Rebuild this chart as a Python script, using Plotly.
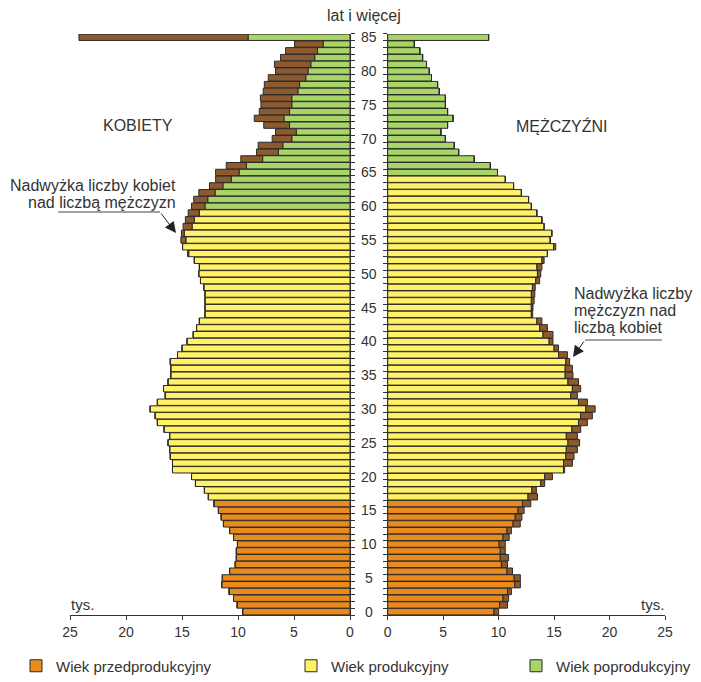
import plotly.graph_objects as go

# The page body has an 8px default margin; design in reference pixel coords
OFF = 8
W, H = 701 - OFF, 682 - OFF

ages = list(range(0, 86))

women = [9.58, 10.08, 10.4, 10.8, 11.45, 11.4, 10.75, 10.25, 10.15, 10.15,
         10.05, 10.4, 10.75, 11.3, 11.5, 11.75, 12.15, 12.65, 13.0, 13.8,
         14.15, 15.85, 15.85, 16.05, 16.1, 16.25, 16.1, 16.6, 17.2, 17.4,
         17.85, 17.2, 16.5, 16.65, 16.25, 16.0, 16.0, 16.05, 15.4, 15.0,
         14.55, 14.0, 13.7, 13.45, 12.95, 12.95, 12.95, 12.95, 13.05, 13.35,
         13.5, 13.45, 13.9, 14.5, 14.95, 15.1, 15.05, 14.9, 14.7, 14.45,
         14.15, 13.95, 13.5, 12.55, 12.0, 12.0, 11.05, 9.75, 8.35, 8.2,
         6.95, 6.65, 7.7, 8.55, 8.1, 7.95, 8.0, 7.75, 7.65, 7.3,
         6.65, 6.75, 6.2, 5.75, 4.95, 24.2]

men = [10.0, 10.8, 10.9, 11.15, 11.96, 11.96, 11.25, 10.8, 10.9, 10.6,
       10.6, 10.95, 11.15, 11.95, 12.1, 12.3, 12.9, 13.5, 13.4, 14.15,
       14.85, 15.95, 16.65, 16.8, 17.1, 17.3, 17.1, 17.4, 18.0, 18.45,
       18.7, 18.0, 17.1, 17.4, 17.2, 16.7, 16.65, 16.4, 16.2, 15.4,
       14.9, 14.9, 14.4, 13.9, 13.07, 13.1, 13.2, 13.26, 13.3, 13.7,
       13.8, 13.9, 14.1, 14.4, 15.15, 14.65, 14.8, 14.1, 13.9, 13.45,
       12.95, 12.7, 12.05, 11.35, 10.6, 9.9, 9.25, 7.8, 6.4, 6.0,
       5.2, 4.8, 5.4, 5.9, 5.4, 5.2, 5.2, 4.65, 4.5, 3.95,
       3.75, 3.5, 3.15, 2.9, 2.4, 9.1]

age_tick_labels = [0, 5, 10, 15, 20, 25, 30, 35, 40, 45, 50, 55, 60, 65, 70, 75, 80, 85]
x_ticks = [0, 5, 10, 15, 20, 25]

pre_max_age = 16          # wiek przedprodukcyjny: 0-16
post_min_women = 60       # wiek poprodukcyjny kobiet: 60+
post_min_men = 65         # wiek poprodukcyjny mężczyzn: 65+

group_names = ["Wiek przedprodukcyjny", "Wiek produkcyjny", "Wiek poprodukcyjny"]
group_colors = ["#E98A1E", "#FFF266", "#A8D468"]
brown = "#8C5A2D"
outline = "#2a2a2a"
txt = "#333333"
FONT = "Liberation Sans, Arial, sans-serif"


def group_of(age, post_min):
    if age <= pre_max_age:
        return 0
    if age < post_min:
        return 1
    return 2


common_base = [min(w, m) for w, m in zip(women, men)]
excess_w = [max(w - m, 0) for w, m in zip(women, men)]
excess_m = [max(m - w, 0) for w, m in zip(women, men)]

fig = go.Figure()

for side, post_min, xa, ya in [("K", post_min_women, "x", "y"), ("M", post_min_men, "x2", "y2")]:
    for g in range(3):
        ys = [a for a in ages if group_of(a, post_min) == g]
        xs = [common_base[a] for a in ys]
        fig.add_trace(go.Bar(
            orientation="h", x=xs, y=ys, xaxis=xa, yaxis=ya,
            marker=dict(color=group_colors[g], line=dict(color=outline, width=1)),
            name=group_names[g], showlegend=(side == "K"),
            legend=["legend", "legend2", "legend3"][g],
            hoverinfo="skip"))

fig.add_trace(go.Bar(orientation="h", x=excess_w, y=ages, base=common_base,
                     xaxis="x", yaxis="y", showlegend=False,
                     marker=dict(color=brown, line=dict(color=outline, width=1)),
                     hoverinfo="skip"))
fig.add_trace(go.Bar(orientation="h", x=excess_m, y=ages, base=common_base,
                     xaxis="x2", yaxis="y2", showlegend=False,
                     marker=dict(color=brown, line=dict(color=outline, width=1)),
                     hoverinfo="skip"))


def px(x):
    return (x - OFF) / W


def py(y):
    return 1 - (y - OFF) / H


y_dom = [py(615.1), py(33.9)]
axis_common = dict(showgrid=False, zeroline=False, showline=True, linecolor=txt,
                   linewidth=1, ticks="outside", ticklen=4, tickcolor=txt,
                   fixedrange=True)
tickfont = dict(family=FONT, size=14, color=txt)
legfont = dict(family=FONT, size=15, color=txt)

fig.update_layout(
    width=W, height=H, autosize=False,
    margin=dict(l=0, r=0, t=0, b=0, autoexpand=False),
    paper_bgcolor="white", plot_bgcolor="white",
    barmode="overlay", bargap=0.06,
    font=dict(family=FONT, size=14, color=txt),
    xaxis=dict(domain=[px(70), px(350)], range=[25, 0], tickvals=x_ticks,
               anchor="y", tickfont=tickfont, **axis_common),
    xaxis2=dict(domain=[px(387.7), px(665)], range=[0, 25], tickvals=x_ticks,
                anchor="y2", tickfont=tickfont, **axis_common),
    yaxis=dict(domain=y_dom, range=[-0.5, 85.5], anchor="x", side="right",
               tickvals=[a - 0.5 for a in ages] + [85.5], showticklabels=False,
               **axis_common),
    yaxis2=dict(domain=y_dom, range=[-0.5, 85.5], anchor="x2", side="left",
                matches="y",
                tickvals=[a - 0.5 for a in ages] + [85.5], showticklabels=False,
                **axis_common),
    legend=dict(x=px(16), y=py(666), xanchor="left", yanchor="middle",
                orientation="h", font=legfont, bgcolor="rgba(0,0,0,0)"),
    legend2=dict(x=px(291), y=py(666), xanchor="left", yanchor="middle",
                 orientation="h", font=legfont, bgcolor="rgba(0,0,0,0)"),
    legend3=dict(x=px(516), y=py(666), xanchor="left", yanchor="middle",
                 orientation="h", font=legfont, bgcolor="rgba(0,0,0,0)"),
)


def label(x, y, text, size=16, xanchor="center"):
    return dict(x=px(x), y=py(y), xref="paper", yref="paper", text=text,
                showarrow=False, xanchor=xanchor, yanchor="middle",
                font=dict(family=FONT, size=size, color=txt))


ann = []
for a in age_tick_labels:
    ann.append(dict(x=px(369), y=a, xref="paper", yref="y", text=str(a),
                    showarrow=False, xanchor="center", yanchor="middle",
                    font=dict(family=FONT, size=14, color=txt)))

ann += [
    label(364, 16, "lat i więcej"),
    label(138, 126, "KOBIETY"),
    label(562, 126, "MĘŻCZYŹNI"),
    label(69, 604, "tys.", 15, "left"),
    label(666, 604, "tys.", 15, "right"),
    label(178, 185, "Nadwyżka liczby kobiet", 16, "right"),
    label(178, 203, "nad liczbą mężczyzn", 16, "right"),
    label(572, 293, "Nadwyżka liczby", 16, "left"),
    label(572, 310, "mężczyzn nad", 16, "left"),
    label(572, 327, "liczbą kobiet", 16, "left"),
    dict(x=px(176), y=py(233), xref="paper", yref="paper", text="", showarrow=True,
         ax=-16, ay=-21, arrowhead=2, arrowsize=2.2, arrowwidth=1, arrowcolor="#222"),
    dict(x=px(573), y=py(357), xref="paper", yref="paper", text="", showarrow=True,
         ax=12, ay=-17, arrowhead=2, arrowsize=2.2, arrowwidth=1, arrowcolor="#222"),
]
fig.update_layout(annotations=ann)

fig.add_shape(type="line", xref="paper", yref="paper", x0=px(58), x1=px(160),
              y0=py(212), y1=py(212), line=dict(color="#444", width=1))
fig.add_shape(type="line", xref="paper", yref="paper", x0=px(585), x1=px(662),
              y0=py(340), y1=py(340), line=dict(color="#444", width=1))

fig.write_html("out.html")
